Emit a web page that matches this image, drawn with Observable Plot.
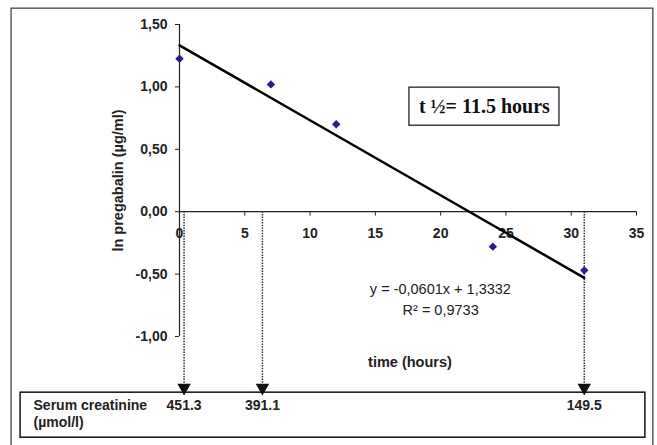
<!DOCTYPE html>
<html>
<head>
<meta charset="utf-8">
<script src="https://cdn.jsdelivr.net/npm/d3@7"></script>
<script src="https://cdn.jsdelivr.net/npm/@observablehq/plot@0.6"></script>
<style>
  html, body { margin: 0; padding: 0; background: #fff; overflow: hidden; }
  #chart { width: 657px; height: 445px; }
</style>
</head>
<body>
<div id="chart"></div>
<script>
// Data
const timeHours = [0, 7, 12, 24, 31];
const lnPregabalin = [1.225, 1.02, 0.70, -0.28, -0.47];
const slope = -0.0601;
const intercept = 1.3332;
const fitRange = [0, 31];
const creatinineTimes = [0.35, 6.35, 31];
const creatinineValues = ["451.3", "391.1", "149.5"];
const xTicks = [0, 5, 10, 15, 20, 25, 30, 35];
const yTicks = [-1.0, -0.5, 0, 0.5, 1.0, 1.5];

const points = timeHours.map((t, i) => ({t, v: lnPregabalin[i]}));
const fit = fitRange.map(t => ({t, v: slope * t + intercept}));
const creat = creatinineTimes.map((t, i) => ({t, label: creatinineValues[i]}));

const sans = "'Liberation Sans', Arial, sans-serif";
const serif = "'Liberation Serif', 'Times New Roman', serif";
const ink = "#222";

// annotation layout (data space)
const boxY1 = -1.45, boxY2 = -1.811;
const fmt = d => d.toFixed(2).replace(".", ",");

const chart = Plot.plot({
  width: 657,
  height: 445,
  marginLeft: 179,
  marginRight: 21,
  marginTop: 24,
  marginBottom: 109,
  style: {fontFamily: sans, background: "#fff", overflow: "visible"},
  x: {domain: [0, 35], axis: null},
  y: {domain: [-1, 1.5], axis: null},
  marks: [
    // outer frame
    Plot.rect([0], {x1: -12.86, x2: 36.29, y1: 1.627, y2: -2.1, fill: "none", stroke: "#444", strokeWidth: 1.3}),
    // axes
    Plot.ruleX([0], {y1: -1, y2: 1.5, stroke: ink, strokeWidth: 1.2}),
    Plot.ruleY([0], {x1: 0, x2: 35, stroke: ink, strokeWidth: 1.2}),
    Plot.axisY({ticks: yTicks, tickFormat: fmt, tickSize: 4, tickPadding: 8, fontSize: 14, fontWeight: "bold", label: null, color: ink}),
    Plot.ruleX(xTicks, {x: d => d, y1: 0, y2: -0.035, stroke: ink}),
    Plot.text(xTicks, {x: d => d, y: 0, dy: 22, text: d => String(d), fontSize: 14, fontWeight: "bold", fill: ink}),
    // axis titles
    Plot.text(["ln pregabalin (µg/ml)"], {x: -4.67, y: 0.25, rotate: -90, fontSize: 14.5, fontWeight: "bold", fill: ink}),
    Plot.text(["time (hours)"], {x: 17.65, y: -1.21, fontSize: 14.5, fontWeight: "bold", fill: ink}),
    // dotted arrows to creatinine box
    Plot.ruleX(creat, {x: "t", y1: 0, y2: -1.38, stroke: "#333", strokeWidth: 1.5, strokeDasharray: "1.5,1.2"}),
    Plot.dot(creat, {x: "t", y: -1.41, symbol: "triangle", rotate: 180, r: 5, fill: "#111", stroke: "none"}),
    // creatinine box
    Plot.rect([0], {x1: -12.17, x2: 35.68, y1: boxY1, y2: boxY2, fill: "none", stroke: "#111", strokeWidth: 1.5}),
    Plot.text(["Serum creatinine", "(µmol/l)"], {x: -11.18, y: (d, i) => i === 0 ? -1.555 : -1.69, text: d => d, textAnchor: "start", fontSize: 14, fontWeight: "bold", fill: ink}),
    Plot.text(creat, {x: "t", y: -1.555, text: "label", fontSize: 14, fontWeight: "bold", fill: ink}),
    // half-life box
    Plot.rect([0], {x1: 17.61, x2: 29.1, y1: 0.994, y2: 0.689, fill: "#fff", stroke: "#222", strokeWidth: 1.3}),
    Plot.text(["t ½= 11.5 hours"], {x: 23.35, y: 0.841, fontFamily: serif, fontSize: 20, fontWeight: "bold", fill: "#111"}),
    // regression line
    Plot.line(fit, {x: "t", y: "v", stroke: "#000", strokeWidth: 2.5}),
    // data points
    Plot.dot(points, {x: "t", y: "v", symbol: "diamond2", r: 3.8, fill: "#22228a", stroke: "none"}),
    // equation
    Plot.text(["y = -0,0601x + 1,3332"], {x: 19.98, y: -0.625, fontSize: 14.5, fill: ink}),
    Plot.text(["R² = 0,9733"], {x: 20.0, y: -0.793, fontSize: 14.5, fill: ink})
  ]
});
document.getElementById("chart").appendChild(chart);
</script>
</body>
</html>
